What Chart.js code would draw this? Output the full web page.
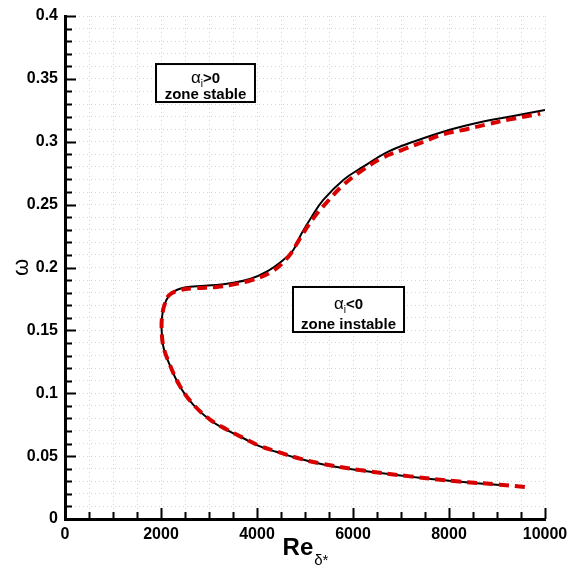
<!DOCTYPE html>
<html>
<head>
<meta charset="utf-8">
<script src="https://cdn.jsdelivr.net/npm/chart.js@4.4.1/dist/chart.umd.min.js"></script>
<style>
    html, body { margin: 0; padding: 0; background: #fff; }
</style>
</head>
<body>
<canvas id="courbe_neutre" width="570" height="568"></canvas>
<script>
// courbe noire (trait plein)
const re_noir = [9063, 8646, 8160, 7674, 7188, 6701, 6215, 5729, 5313, 4826, 4400, 4063, 3715, 3368, 3021, 2674, 2396, 2170, 2049, 2014, 2014,
    2063, 2153, 2326, 2604, 3160, 3438, 3854, 4202, 4548, 4756, 4931, 5140, 5381, 5798, 6215, 6735, 7257, 7951, 8646, 9340, 10000];
const omega_noir = [0.027, 0.0283, 0.0298, 0.0317, 0.0337, 0.0359, 0.0383, 0.0410, 0.0440, 0.0485, 0.0535, 0.0577, 0.0642, 0.0708, 0.0787, 0.0907, 0.1052, 0.1235, 0.137, 0.150, 0.1583,
    0.1688, 0.1768, 0.1821, 0.1847, 0.186, 0.1874, 0.1909, 0.1967, 0.206, 0.2139, 0.2272, 0.2404, 0.2537, 0.2696, 0.2802, 0.2921, 0.300, 0.3088, 0.3155, 0.3205, 0.3253];

// courbe rouge (tirets)
const re_rouge = [9580, 9063, 8160, 7188, 6215, 5313, 4826, 4400, 4063, 3715, 3368, 3021, 2674, 2396, 2170, 2049, 2014, 2020, 2070, 2170, 2396,
    2700, 3160, 3438, 3889, 4306, 4653, 4896, 5173, 5465, 5798, 6181, 6598, 7014, 7465, 7882, 8368, 8819, 9271, 9757, 9900];
const omega_rouge = [0.0255, 0.0273, 0.0300, 0.0339, 0.0385, 0.0442, 0.0487, 0.0538, 0.0580, 0.0645, 0.0712, 0.0791, 0.0911, 0.1056, 0.1240, 0.1372, 0.150, 0.160, 0.170, 0.178, 0.182,
    0.1835, 0.1845, 0.186, 0.190, 0.1967, 0.2086, 0.2232, 0.2391, 0.2523, 0.2656, 0.277, 0.287, 0.2934, 0.300, 0.306, 0.310, 0.3141, 0.3178, 0.3213, 0.3225];

const x_labels = [0, 2000, 4000, 6000, 8000, 10000];
const y_labels = ['0', '0.05', '0.1', '0.15', '0.2', '0.25', '0.3', '0.35', '0.4'];

// cadres de texte : [re gauche, omega haut, re droite, omega bas]
const zone_stable = [1896, 0.3618, 3958, 0.3316];
const zone_instable = [4750, 0.1845, 7063, 0.1487];

const FONT = '"Liberation Sans", Arial, sans-serif';

function to_points(xs, ys) {
    return xs.map((x, i) => ({ x: x, y: ys[i] }));
}

function cadre(ctx, chart, zone, signe, texte) {
    const sx = chart.scales.x, sy = chart.scales.y;
    const l = sx.getPixelForValue(zone[0]), t = sy.getPixelForValue(zone[1]);
    const r = sx.getPixelForValue(zone[2]), b = sy.getPixelForValue(zone[3]);
    const cx = (l + r) / 2, h = b - t;
    ctx.fillStyle = '#fff';
    ctx.fillRect(l, t, r - l, h);
    ctx.lineWidth = 2;
    ctx.strokeStyle = '#000';
    ctx.strokeRect(l, t, r - l, h);

    ctx.fillStyle = '#000';
    ctx.textAlign = 'left';
    ctx.textBaseline = 'alphabetic';
    ctx.font = '17px ' + FONT;
    const wa = ctx.measureText('α').width;
    ctx.font = '10px ' + FONT;
    const wi = ctx.measureText('i').width;
    ctx.font = 'bold 15px ' + FONT;
    const ws = ctx.measureText(signe).width;
    let x0 = cx - (wa + wi + ws) / 2;
    const b1 = t + h * 0.46 + 1;
    ctx.font = '17px ' + FONT;
    ctx.fillText('α', x0, b1);
    ctx.font = '10px ' + FONT;
    ctx.fillText('i', x0 + wa, b1 + 4);
    ctx.font = 'bold 15px ' + FONT;
    ctx.fillText(signe, x0 + wa + wi, b1);

    ctx.font = 'bold 15px ' + FONT;
    ctx.textAlign = 'center';
    ctx.fillText(texte, cx, b - 3);
}

const habillage = {
    id: 'habillage',
    afterDraw(chart) {
        const ctx = chart.ctx;
        const a = chart.chartArea;
        const sx = chart.scales.x, sy = chart.scales.y;
        ctx.save();

        // graduations vers l'interieur
        ctx.strokeStyle = '#000';
        ctx.lineWidth = 2;
        ctx.beginPath();
        sx.ticks.forEach(tk => {
            const px = Math.round(sx.getPixelForValue(tk.value)) + 0.5;
            const len = tk.value % 2000 === 0 ? 11 : 7;
            ctx.moveTo(px, a.bottom);
            ctx.lineTo(px, a.bottom - len);
        });
        sy.ticks.forEach(tk => {
            const py = Math.round(sy.getPixelForValue(tk.value)) + 0.5;
            const major = Math.abs(tk.value * 20 - Math.round(tk.value * 20)) < 1e-6;
            ctx.moveTo(a.left, py);
            ctx.lineTo(a.left + (major ? 11 : 7), py);
        });
        ctx.stroke();

        cadre(ctx, chart, zone_stable, '>0', 'zone stable');
        cadre(ctx, chart, zone_instable, '<0', 'zone instable');

        // titre axe x : Re avec indice
        ctx.fillStyle = '#000';
        ctx.textAlign = 'left';
        ctx.textBaseline = 'alphabetic';
        ctx.font = 'bold 24px ' + FONT;
        const w_re = ctx.measureText('Re').width;
        ctx.font = '15px ' + FONT;
        const w_sub = ctx.measureText('δ*').width;
        const xc = (a.left + a.right) / 2;
        const x0 = xc - (w_re + w_sub) / 2;
        ctx.font = 'bold 24px ' + FONT;
        ctx.fillText('Re', x0, a.bottom + 36);
        ctx.font = '15px ' + FONT;
        ctx.fillText('δ*', x0 + w_re + 1, a.bottom + 46);

        // titre axe y
        ctx.translate(a.left - 43, (a.top + a.bottom) / 2);
        ctx.rotate(-Math.PI / 2);
        ctx.textAlign = 'center';
        ctx.textBaseline = 'middle';
        ctx.font = '22px ' + FONT;
        ctx.fillText('ω', 0, 0);
        ctx.restore();
    }
};

const ctx_courbe = document.getElementById('courbe_neutre');

const graphique = new Chart(ctx_courbe, {
    type: 'scatter',
    data: {
        datasets: [{
            label: 'noir',
            data: to_points(re_noir, omega_noir),
            showLine: true,
            borderColor: '#000',
            borderWidth: 2,
            pointRadius: 0,
            tension: 0.4,
            order: 1
        }, {
            label: 'rouge',
            data: to_points(re_rouge, omega_rouge),
            showLine: true,
            borderColor: '#d90000',
            borderWidth: 4,
            borderDash: [10, 6],
            pointRadius: 0,
            tension: 0.4,
            order: 0
        }]
    },
    options: {
        responsive: false,
        animation: false,
        layout: {
            padding: { top: 16, right: 25, left: 0, bottom: 0 }
        },
        plugins: {
            legend: { display: false },
            tooltip: { enabled: false }
        },
        scales: {
            x: {
                type: 'linear',
                min: 0,
                max: 10000,
                afterFit: (scale) => {
                    scale.height = 49;
                    scale.paddingLeft = 0;
                    scale.paddingRight = 0;
                },
                ticks: {
                    stepSize: 500,
                    autoSkip: false,
                    maxRotation: 0,
                    padding: 6,
                    color: '#000',
                    font: { family: FONT, size: 16, weight: 'bold' },
                    callback: (v) => x_labels.includes(v) ? String(v) : ''
                },
                grid: {
                    color: '#d4d4d4',
                    lineWidth: 1,
                    drawTicks: false
                },
                border: { display: true, color: '#000', width: 3, dash: [1, 3] }
            },
            y: {
                type: 'linear',
                min: 0,
                max: 0.4,
                afterFit: (scale) => {
                    scale.width = 65;
                    scale.paddingTop = 0;
                    scale.paddingBottom = 0;
                },
                ticks: {
                    stepSize: 0.01,
                    autoSkip: false,
                    padding: 7,
                    color: '#000',
                    font: { family: FONT, size: 16, weight: 'bold' },
                    callback: (v) => {
                        const lab = y_labels.find(s => Math.abs(parseFloat(s) - v) < 1e-6);
                        return lab === undefined ? '' : lab;
                    }
                },
                grid: {
                    color: '#d4d4d4',
                    lineWidth: 1,
                    drawTicks: false
                },
                border: { display: true, color: '#000', width: 3, dash: [1, 3] }
            }
        }
    },
    plugins: [habillage]
});
</script>
</body>
</html>
